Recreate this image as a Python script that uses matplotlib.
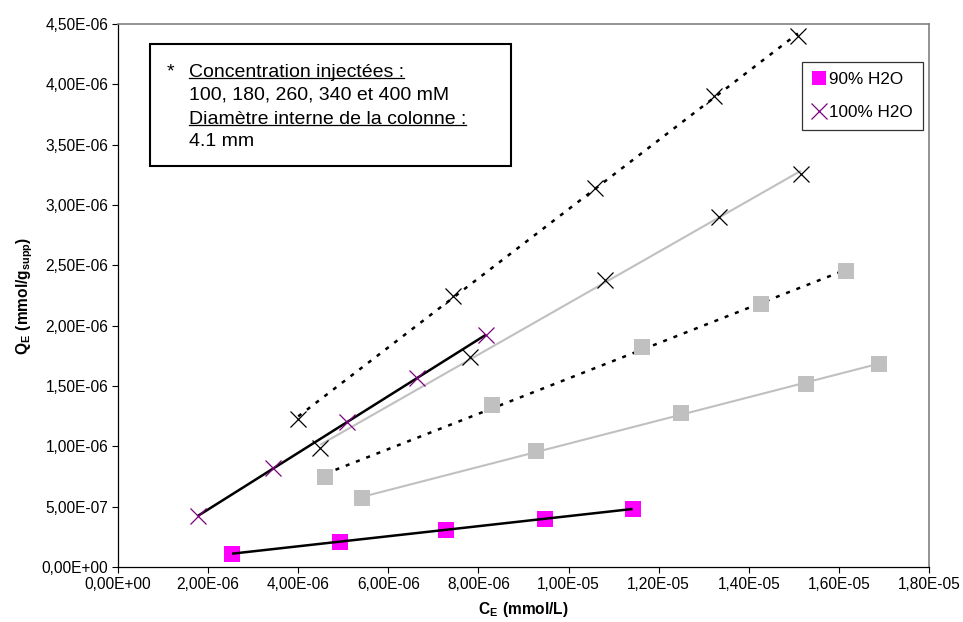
import numpy as np
import matplotlib
matplotlib.use("Agg")
import matplotlib.pyplot as plt
from matplotlib.lines import Line2D
from matplotlib.patches import Rectangle
from matplotlib.ticker import FuncFormatter, MultipleLocator

plt.rcParams['font.family'] = ['Liberation Sans', 'DejaVu Sans']
plt.rcParams['mathtext.fontset'] = 'custom'
plt.rcParams['mathtext.rm'] = 'Liberation Sans'
plt.rcParams['mathtext.bf'] = 'Liberation Sans:bold'

# C_E (mmol/L) and Q_E (mmol/g_supp), values in units of 1e-6
h2o90_x = [2.53, 4.93, 7.29, 9.47, 11.42]
h2o90_y = [0.11, 0.21, 0.31, 0.40, 0.48]

h2o100_x = [1.77, 3.45, 5.08, 6.64, 8.16]
h2o100_y = [0.42, 0.82, 1.20, 1.57, 1.92]

crossA_x = [4.00, 7.44, 10.58, 13.22, 15.09]
crossA_y = [1.23, 2.25, 3.14, 3.90, 4.40]

crossB_x = [4.49, 7.82, 10.80, 13.33, 15.16]
crossB_y = [0.99, 1.74, 2.38, 2.90, 3.26]

squareC_x = [4.60, 8.31, 11.64, 14.27, 16.15]
squareC_y = [0.75, 1.34, 1.82, 2.18, 2.45]

squareD_x = [5.42, 9.27, 12.49, 15.27, 16.90]
squareD_y = [0.57, 0.96, 1.28, 1.52, 1.68]

box_lines = ["Concentration injectées :",
             "100, 180, 260, 340 et 400 mM",
             "Diamètre interne de la colonne :",
             "4.1 mm"]

SCALE = 1e-6
GREY = '#C0C0C0'
PURPLE = '#800080'
MAGENTA = '#FF00FF'


def trendline(ax, xs, ys, **kw):
    """Linear least-squares line across the range of the points."""
    x = np.array(xs) * SCALE
    y = np.array(ys) * SCALE
    a, b = np.polyfit(x, y, 1)
    xx = np.array([x.min(), x.max()])
    ax.plot(xx, a * xx + b, solid_capstyle='butt', dash_capstyle='butt', **kw)


def scatter(ax, xs, ys, **kw):
    ax.plot(np.array(xs) * SCALE, np.array(ys) * SCALE, linestyle='none', **kw)


fig = plt.figure(figsize=(9.63, 6.22), dpi=100)
ax = fig.add_axes([118 / 963, 1 - 567 / 622, 811 / 963, 543 / 622])

dotted = (0, (1.6, 2.8))
trendline(ax, crossA_x, crossA_y, color='black', lw=1.8, linestyle=dotted, zorder=2)
trendline(ax, crossB_x, crossB_y, color=GREY, lw=1.5, zorder=2)
trendline(ax, squareC_x, squareC_y, color='black', lw=1.8, linestyle=dotted, zorder=2)
trendline(ax, squareD_x, squareD_y, color=GREY, lw=1.5, zorder=2)

scatter(ax, squareC_x, squareC_y, marker='s', ms=11, color=GREY, mew=0, zorder=3)
scatter(ax, squareD_x, squareD_y, marker='s', ms=11, color=GREY, mew=0, zorder=3)
scatter(ax, crossA_x, crossA_y, marker='x', ms=11.5, color='black', mew=0.9, zorder=3)
scatter(ax, crossB_x, crossB_y, marker='x', ms=11.5, color='black', mew=0.9, zorder=3)

trendline(ax, h2o90_x, h2o90_y, color='black', lw=1.8, zorder=4)
trendline(ax, h2o100_x, h2o100_y, color='black', lw=1.8, zorder=4)
scatter(ax, h2o90_x, h2o90_y, marker='s', ms=11, color=MAGENTA, mew=0, zorder=3)
scatter(ax, h2o100_x, h2o100_y, marker='x', ms=11.5, color=PURPLE, mew=0.9, zorder=5)

ax.set_xlim(0, 1.8e-5)
ax.set_ylim(0, 4.5e-6)
ax.xaxis.set_major_locator(MultipleLocator(2e-6))
ax.yaxis.set_major_locator(MultipleLocator(5e-7))
sci = FuncFormatter(lambda v, _: f"{v:.2E}".replace('.', ','))
ax.xaxis.set_major_formatter(sci)
ax.yaxis.set_major_formatter(sci)
ax.tick_params(direction='out', length=4, width=0.8, labelsize=11.2, pad=3)

for side in ('left', 'bottom'):
    ax.spines[side].set_color('black')
    ax.spines[side].set_linewidth(0.9)
for side in ('top', 'right'):
    ax.spines[side].set_color('#808080')
    ax.spines[side].set_linewidth(1.2)

ax.set_xlabel(r"$\mathbf{C_E\ (mmol/L)}$", fontsize=11.2, labelpad=6)
ax.set_ylabel(r"$\mathbf{Q_E\ (mmol/g_{supp})}$", fontsize=11.2, labelpad=5)

# text box with injection conditions
ax.add_patch(Rectangle((0.0395, 0.7385), 0.4451, 0.2245, transform=ax.transAxes,
                       facecolor='white', edgecolor='black', lw=1.5, zorder=6))
ax.text(0.0605, 0.9116, "*", transform=ax.transAxes, fontsize=14,
        va='center', ha='left', zorder=7)
line_y = [0.9116, 0.8692, 0.8250, 0.7827]
texts = []
for txt, yy in zip(box_lines, line_y):
    texts.append(ax.text(0.0875, yy, txt, transform=ax.transAxes, fontsize=14,
                         va='center', ha='left', zorder=7))

fig.canvas.draw()
renderer = fig.canvas.get_renderer()
to_ax = ax.transAxes.inverted()
for t in (texts[0], texts[2]):
    bb = t.get_window_extent(renderer)
    (x0, y0), (x1, _) = to_ax.transform([(bb.x0, bb.y0), (bb.x1, bb.y1)])
    ax.add_line(Line2D([x0, x1], [y0 + 0.004, y0 + 0.004], transform=ax.transAxes,
                       color='black', lw=0.9, zorder=7))

handles = [Line2D([], [], linestyle='none', marker='s', ms=10, color=MAGENTA, mew=0),
           Line2D([], [], linestyle='none', marker='x', ms=11, color=PURPLE, mew=0.9)]
leg = ax.legend(handles, ["90% H2O", "100% H2O"], loc='upper right',
                bbox_to_anchor=(0.9926, 0.930), fontsize=12.3, frameon=True,
                fancybox=False, edgecolor='black', handlelength=0.8,
                handletextpad=0.2, borderpad=0.6, labelspacing=1.05,
                borderaxespad=0)
leg.get_frame().set_linewidth(0.9)

fig.savefig('out.png', dpi=100)
